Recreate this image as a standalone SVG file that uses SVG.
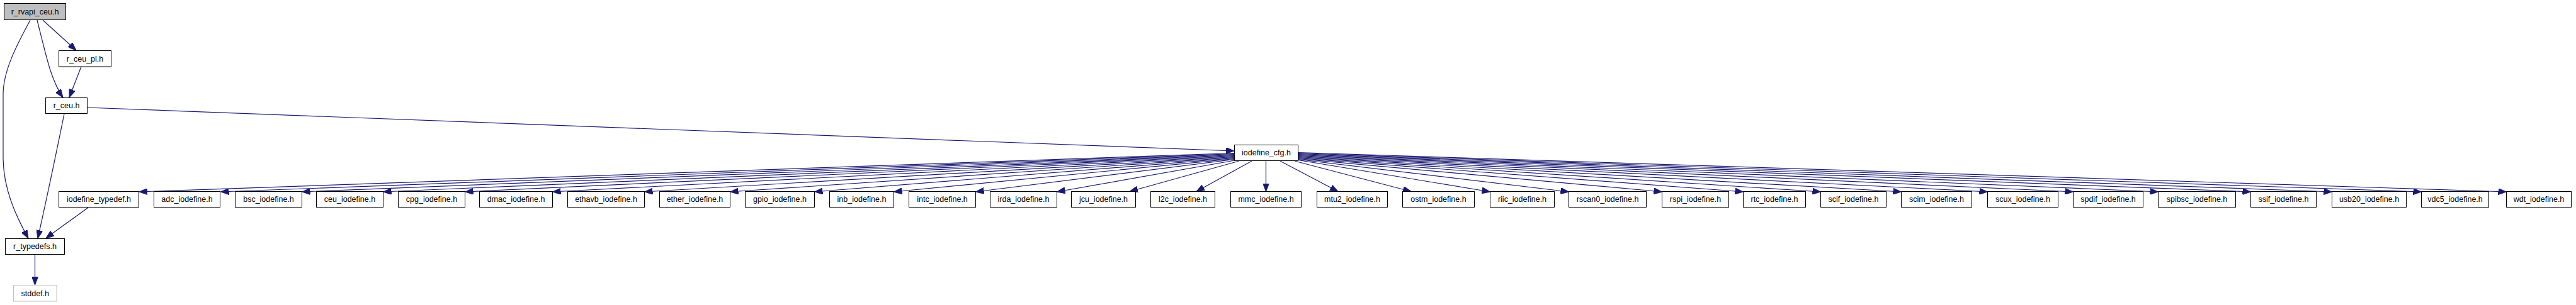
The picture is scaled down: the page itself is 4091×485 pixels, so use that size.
<svg xmlns="http://www.w3.org/2000/svg" width="4091" height="485" viewBox="0 0 4091 485">
<style>
rect{fill:#ffffff;stroke:#000000;stroke-width:1}
.root rect{fill:#bfbfbf}
.ext rect{stroke:#bfbfbf}
text{font-family:"Liberation Sans",Arial,sans-serif;font-size:12.5px;text-anchor:middle;fill:#000000}
.edges path{fill:none;stroke:#191970;stroke-width:1.2;marker-end:url(#ah)}
</style>
<defs>
<marker id="ah" viewBox="0 0 13 10" markerWidth="13" markerHeight="10" refX="13" refY="5" orient="auto" markerUnits="userSpaceOnUse">
<path d="M0,0 L13,5 L0,10 z" fill="#191970" stroke="#191970" stroke-width="1"/>
</marker>
</defs>
<rect x="0" y="0" width="4091" height="485" style="fill:#ffffff;stroke:none"/>
<g class="edges">
<path d="M48,32 C30,66 5,110 5,150 L5,250 C5,300 25,343 45,379"/>
<path d="M59,32 C66,60 73,90 80,112 C86,130 93,145 100,155"/>
<path d="M68,32 L121,80"/>
<path d="M129,106 L110,155"/>
<path d="M102,181 C95,215 80,290 60,379"/>
<path d="M140,330 C120,345 95,362 73,379"/>
<path d="M55.5,405 L55.5,453"/>
<path d="M138,171 L1960,240"/>
<path d="M1960,243.5 L221,305"/>
<path d="M1960,244.5 L350.5,305"/>
<path d="M1960,245.5 L479.5,305"/>
<path d="M1960,246.5 L608.5,305"/>
<path d="M1960,247.5 L738.5,305"/>
<path d="M1960,248.5 L877.5,305"/>
<path d="M1960,249.5 L1023.5,305"/>
<path d="M1960,250.5 L1159.5,305"/>
<path d="M1960,251.5 L1293.5,305"/>
<path d="M1960,252.5 L1419.5,305"/>
<path d="M1960,253.5 L1549.5,305"/>
<path d="M1961,255 L1678.5,305"/>
<path d="M1968,256 L1794,304.5"/>
<path d="M1988,256 L1900,304.5"/>
<path d="M2010.5,256 L2010.5,304.5"/>
<path d="M2033,256 L2125,304.5"/>
<path d="M2056,256 L2241,304.5"/>
<path d="M2061.5,254.5 L2366.5,305"/>
<path d="M2061.5,253.5 L2491.5,305"/>
<path d="M2061.5,252.5 L2639.5,305"/>
<path d="M2061.5,251.5 L2768.5,305"/>
<path d="M2061.5,250.5 L2891.5,305"/>
<path d="M2061.5,249.5 L3019.5,305"/>
<path d="M2061.5,248.5 L3156.5,305"/>
<path d="M2061.5,247.5 L3292.5,305"/>
<path d="M2061.5,246.5 L3427.5,305"/>
<path d="M2061.5,245.5 L3574.5,305"/>
<path d="M2061.5,244.5 L3703.5,305"/>
<path d="M2061.5,243.5 L3845.5,305"/>
<path d="M2061.5,242.5 L3980.5,305"/>
</g>
<g id="node_r_rvapi_ceu" class="root"><rect x="6.5" y="5.5" width="98" height="26"/><text x="55.5" y="22.5">r_rvapi_ceu.h</text></g>
<g id="node_r_ceu_pl"><rect x="93.5" y="80.5" width="83" height="25.5"/><text x="135" y="97.5">r_ceu_pl.h</text></g>
<g id="node_r_ceu"><rect x="72.5" y="155.5" width="66" height="25"/><text x="105.5" y="172">r_ceu.h</text></g>
<g id="node_iodefine_cfg"><rect x="1960.5" y="230.5" width="101" height="25"/><text x="2011" y="247">iodefine_cfg.h</text></g>
<g id="node_r_typedefs"><rect x="8.5" y="379.5" width="94" height="25"/><text x="55.5" y="396">r_typedefs.h</text></g>
<g id="node_stddef" class="ext"><rect x="21.5" y="453.5" width="68.5" height="25.5"/><text x="55.75" y="470.5">stddef.h</text></g>
<g id="node_iodefine_typedef"><rect x="93.5" y="304.5" width="127" height="25"/><text x="157" y="321">iodefine_typedef.h</text></g>
<g id="node_adc"><rect x="244.5" y="304.5" width="105" height="25"/><text x="297" y="321">adc_iodefine.h</text></g>
<g id="node_bsc"><rect x="373.5" y="304.5" width="106" height="25"/><text x="426.5" y="321">bsc_iodefine.h</text></g>
<g id="node_ceu"><rect x="502.5" y="304.5" width="106" height="25"/><text x="555.5" y="321">ceu_iodefine.h</text></g>
<g id="node_cpg"><rect x="632.5" y="304.5" width="106" height="25"/><text x="685.5" y="321">cpg_iodefine.h</text></g>
<g id="node_dmac"><rect x="761.5" y="304.5" width="116" height="25"/><text x="819.5" y="321">dmac_iodefine.h</text></g>
<g id="node_ethavb"><rect x="901.5" y="304.5" width="122" height="25"/><text x="962.5" y="321">ethavb_iodefine.h</text></g>
<g id="node_ether"><rect x="1047.5" y="304.5" width="112" height="25"/><text x="1103.5" y="321">ether_iodefine.h</text></g>
<g id="node_gpio"><rect x="1183.5" y="304.5" width="110" height="25"/><text x="1238.5" y="321">gpio_iodefine.h</text></g>
<g id="node_inb"><rect x="1317.5" y="304.5" width="102" height="25"/><text x="1368.5" y="321">inb_iodefine.h</text></g>
<g id="node_intc"><rect x="1443.5" y="304.5" width="106" height="25"/><text x="1496.5" y="321">intc_iodefine.h</text></g>
<g id="node_irda"><rect x="1572.5" y="304.5" width="106" height="25"/><text x="1625.5" y="321">irda_iodefine.h</text></g>
<g id="node_jcu"><rect x="1701.5" y="304.5" width="102" height="25"/><text x="1752.5" y="321">jcu_iodefine.h</text></g>
<g id="node_l2c"><rect x="1827.5" y="304.5" width="102" height="25"/><text x="1878.5" y="321">l2c_iodefine.h</text></g>
<g id="node_mmc"><rect x="1954.5" y="304.5" width="112" height="25"/><text x="2010.5" y="321">mmc_iodefine.h</text></g>
<g id="node_mtu2"><rect x="2091.5" y="304.5" width="112" height="25"/><text x="2147.5" y="321">mtu2_iodefine.h</text></g>
<g id="node_ostm"><rect x="2227.5" y="304.5" width="114" height="25"/><text x="2284.5" y="321">ostm_iodefine.h</text></g>
<g id="node_riic"><rect x="2366.5" y="304.5" width="102" height="25"/><text x="2417.5" y="321">riic_iodefine.h</text></g>
<g id="node_rscan0"><rect x="2491.5" y="304.5" width="123" height="25"/><text x="2553" y="321">rscan0_iodefine.h</text></g>
<g id="node_rspi"><rect x="2639.5" y="304.5" width="106" height="25"/><text x="2692.5" y="321">rspi_iodefine.h</text></g>
<g id="node_rtc"><rect x="2768.5" y="304.5" width="99" height="25"/><text x="2818" y="321">rtc_iodefine.h</text></g>
<g id="node_scif"><rect x="2891.5" y="304.5" width="104" height="25"/><text x="2943.5" y="321">scif_iodefine.h</text></g>
<g id="node_scim"><rect x="3019.5" y="304.5" width="112" height="25"/><text x="3075.5" y="321">scim_iodefine.h</text></g>
<g id="node_scux"><rect x="3156.5" y="304.5" width="112" height="25"/><text x="3212.5" y="321">scux_iodefine.h</text></g>
<g id="node_spdif"><rect x="3292.5" y="304.5" width="111" height="25"/><text x="3348" y="321">spdif_iodefine.h</text></g>
<g id="node_spibsc"><rect x="3427.5" y="304.5" width="123" height="25"/><text x="3489" y="321">spibsc_iodefine.h</text></g>
<g id="node_ssif"><rect x="3574.5" y="304.5" width="104" height="25"/><text x="3626.5" y="321">ssif_iodefine.h</text></g>
<g id="node_usb20"><rect x="3703.5" y="304.5" width="118" height="25"/><text x="3762.5" y="321">usb20_iodefine.h</text></g>
<g id="node_vdc5"><rect x="3845.5" y="304.5" width="107" height="25"/><text x="3899" y="321">vdc5_iodefine.h</text></g>
<g id="node_wdt"><rect x="3980.5" y="304.5" width="103" height="25"/><text x="4032" y="321">wdt_iodefine.h</text></g>
</svg>
